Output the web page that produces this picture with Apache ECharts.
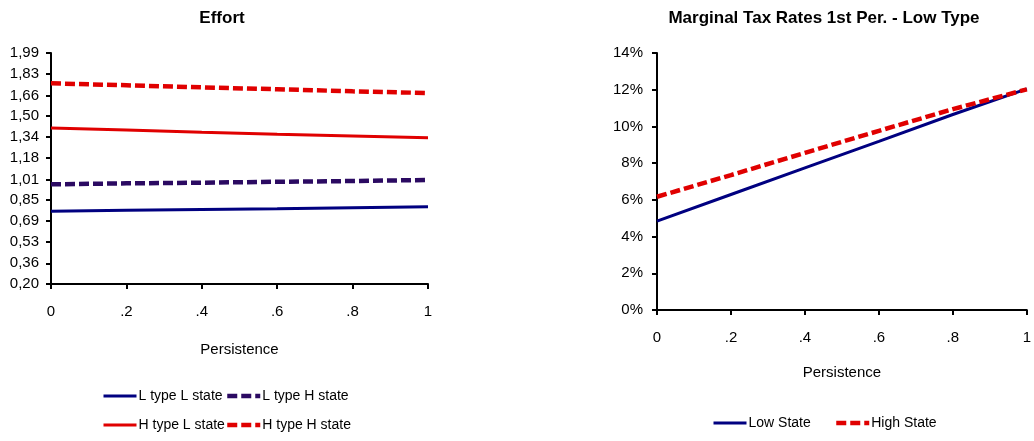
<!DOCTYPE html>
<html>
<head>
<meta charset="utf-8">
<script src="https://cdn.jsdelivr.net/npm/echarts@6/dist/echarts.min.js"></script>
<style>
  html, body { margin: 0; padding: 0; background: #fff; }
  #chart { width: 1034px; height: 441px; }
</style>
</head>
<body>
<div id="chart"></div>
<script>
// shared x values (persistence)
var persistence = [0, 0.2, 0.4, 0.6, 0.8, 1];
var xTickLabels = ['0', '.2', '.4', '.6', '.8', '1'];

// left panel: Effort
var effortTicks = [0.20, 0.36, 0.53, 0.69, 0.85, 1.01, 1.18, 1.34, 1.50, 1.66, 1.83, 1.99];
var lTypeLState = [0.763, 0.771, 0.778, 0.783, 0.791, 0.799];
var lTypeHState = [0.972, 0.980, 0.985, 0.992, 0.998, 1.006];
var hTypeLState = [1.409, 1.393, 1.375, 1.360, 1.347, 1.333];
var hTypeHState = [1.755, 1.740, 1.724, 1.709, 1.693, 1.680];

// right panel: marginal tax rates (percent)
var lowState = [4.84, 6.29, 7.74, 9.19, 10.65, 12.05];
var highState = [6.17, 7.35, 8.56, 9.76, 10.94, 12.02];

var FONT = '"Liberation Sans Narrow", "Arial Narrow", "Liberation Sans", Arial, sans-serif';
var NAVY = '#000080';
var PURPLE = '#2b0a62';
var RED = '#e00000';

function pairs(ys) {
  return persistence.map(function (x, i) { return [x, ys[i]]; });
}

function xAxisOf(gridIndex, gap) {
  return {
    type: 'value', gridIndex: gridIndex, min: 0, max: 1, interval: 0.2,
    name: 'Persistence', nameLocation: 'middle', nameGap: gap,
    nameTextStyle: { fontFamily: FONT, fontSize: 15, color: '#000' },
    axisLine: { lineStyle: { color: '#000', width: 2 } },
    axisTick: { length: 5, lineStyle: { color: '#000', width: 2 } },
    axisLabel: {
      margin: 20, fontFamily: FONT, fontSize: 15, color: '#000',
      formatter: function (v, i) { return xTickLabels[i]; }
    },
    splitLine: { show: false }
  };
}

function legendOf(name, left, top, lineWidth) {
  return {
    data: [name], left: left, top: top, padding: 0,
    itemWidth: 33, itemHeight: 14, itemGap: 0,
    itemStyle: { opacity: 0 },
    lineStyle: { width: lineWidth },
    textStyle: { fontFamily: FONT, fontSize: 14, color: '#000', padding: [0, 0, 0, -3] }
  };
}

var chart = echarts.init(document.getElementById('chart'));
chart.setOption({
  backgroundColor: '#fff',
  animation: false,
  title: [
    { text: 'Effort', left: 222, top: 10, padding: 0, textAlign: 'center',
      textStyle: { fontFamily: FONT, fontSize: 17, fontWeight: 'bold', color: '#000' } },
    { text: 'Marginal Tax Rates 1st Per. - Low Type', left: 824, top: 10, padding: 0, textAlign: 'center',
      textStyle: { fontFamily: FONT, fontSize: 17, fontWeight: 'bold', color: '#000' } }
  ],
  legend: [
    legendOf('L type L state', 102, 389, 3),
    legendOf('L type H state', 225, 389, 4.5),
    legendOf('H type L state', 102, 418, 3),
    legendOf('H type H state', 225, 418, 4.5),
    legendOf('Low State', 712, 416, 3),
    legendOf('High State', 834, 416, 4.5)
  ],
  grid: [
    { left: 51, top: 53, width: 377, height: 231 },
    { left: 657, top: 53, width: 371, height: 257 }
  ],
  xAxis: [xAxisOf(0, 58), xAxisOf(1, 55)],
  yAxis: [
    {
      type: 'value', gridIndex: 0, min: 0.2, max: 1.99,
      axisLine: { show: true, lineStyle: { color: '#000', width: 2 } },
      axisTick: { show: true, length: 5, customValues: effortTicks, lineStyle: { color: '#000', width: 2 } },
      axisLabel: {
        margin: 12, fontFamily: FONT, fontSize: 15, color: '#000', customValues: effortTicks,
        formatter: function (v) { return v.toFixed(2).replace('.', ','); }
      },
      splitLine: { show: false }
    },
    {
      type: 'value', gridIndex: 1, min: 0, max: 14, interval: 2,
      axisLine: { show: true, lineStyle: { color: '#000', width: 2 } },
      axisTick: { show: true, length: 5, lineStyle: { color: '#000', width: 2 } },
      axisLabel: {
        margin: 14, fontFamily: FONT, fontSize: 15, color: '#000',
        formatter: function (v) { return v + '%'; }
      },
      splitLine: { show: false }
    }
  ],
  series: [
    { name: 'L type L state', type: 'line', xAxisIndex: 0, yAxisIndex: 0, symbol: 'none',
      color: NAVY, lineStyle: { color: NAVY, width: 3 }, data: pairs(lTypeLState) },
    { name: 'L type H state', type: 'line', xAxisIndex: 0, yAxisIndex: 0, symbol: 'none',
      color: PURPLE, lineStyle: { color: PURPLE, width: 4.5, type: [10, 4] }, data: pairs(lTypeHState) },
    { name: 'H type L state', type: 'line', xAxisIndex: 0, yAxisIndex: 0, symbol: 'none',
      color: RED, lineStyle: { color: RED, width: 3 }, data: pairs(hTypeLState) },
    { name: 'H type H state', type: 'line', xAxisIndex: 0, yAxisIndex: 0, symbol: 'none',
      color: RED, lineStyle: { color: RED, width: 4.5, type: [10, 4] }, data: pairs(hTypeHState) },
    { name: 'Low State', type: 'line', xAxisIndex: 1, yAxisIndex: 1, symbol: 'none',
      color: NAVY, lineStyle: { color: NAVY, width: 3 }, data: pairs(lowState) },
    { name: 'High State', type: 'line', xAxisIndex: 1, yAxisIndex: 1, symbol: 'none',
      color: RED, lineStyle: { color: RED, width: 4.5, type: [10, 4] }, data: pairs(highState) }
  ]
});
</script>
</body>
</html>
